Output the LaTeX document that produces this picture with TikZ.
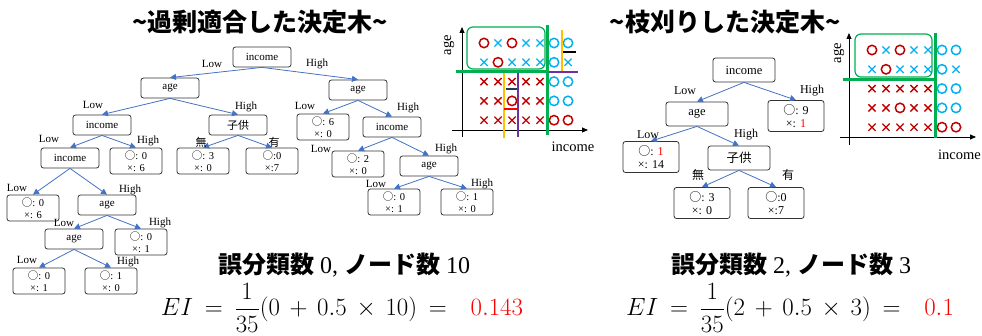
\documentclass[tikz,border=0pt]{standalone}
\usepackage{fontspec}
\setmainfont{Liberation Serif}
\newfontfamily\jp{Noto Sans CJK JP}
\usetikzlibrary{arrows.meta}
\definecolor{edgeblue}{HTML}{4472C4}
\definecolor{ored}{HTML}{C00000}
\definecolor{xblue}{HTML}{00B0F0}
\definecolor{cutgreen}{HTML}{00B050}
\definecolor{cutorange}{HTML}{FFC000}
\definecolor{cutpurple}{HTML}{7030A0}
\definecolor{cutnavy}{HTML}{1F3864}
\newcommand\maru{{\jp ○}}
\newcommand\widemath{\thickmuskip=8.5mu\relax\medmuskip=7mu\relax}
\tikzset{xmark/.pic={\draw (-3.6,-3.6) -- (3.6,3.6) (-3.6,3.6) -- (3.6,-3.6);}}
% the 7x5 sample grid, shared by both plots
\newcommand\scatterdots{%
    \foreach \i/\j in {1/1,3/1,2/2,3/4,6/5,7/5}
        \draw[ored,line width=1.5pt] ({14*(\i-1)},{19.3*(\j-1)}) circle (4.7pt);
    \foreach \i/\j in {6/1,7/1,6/2,6/3,7/3,6/4,7/4}
        \draw[xblue,line width=1.5pt] ({14*(\i-1)},{19.3*(\j-1)}) circle (4.7pt);
    \foreach \i/\j in {2/1,4/1,5/1,1/2,3/2,4/2,5/2,7/2}
        \pic[xblue,line width=1.3pt] at ({14*(\i-1)},{19.3*(\j-1)}) {xmark};
    \foreach \i/\j in {1/3,2/3,3/3,4/3,5/3,1/4,2/4,4/4,5/4,1/5,2/5,3/5,4/5,5/5}
        \pic[ored,line width=1.3pt] at ({14*(\i-1)},{19.3*(\j-1)}) {xmark};
}

\begin{document}
\begin{tikzpicture}[x=1pt,y=-1pt,
    box/.style={draw=black!80, line width=0.8pt, rounded corners=2.5pt, inner sep=1pt,
        minimum width=58, minimum height=20, font=\fontsize{11}{12}\selectfont},
    leaf/.style={box, minimum width=52, minimum height=26, align=center,
        font=\fontsize{10.5}{12}\selectfont},
    bigbox/.style={box, minimum width=62, minimum height=24, font=\fontsize{12.5}{14}\selectfont},
    bigleaf/.style={box, minimum width=56, minimum height=31, align=center,
        font=\fontsize{12}{13.5}\selectfont},
    lbl/.style={inner sep=0pt, font=\fontsize{11}{12}\selectfont},
    biglbl/.style={inner sep=0pt, font=\fontsize{12}{13}\selectfont},
    axlbl/.style={inner sep=0pt, font=\fontsize{14.5}{16}\selectfont},
    branch/.style={draw=edgeblue, line width=0.8pt, -{Triangle[length=6pt,width=6pt]}},
    axis/.style={line width=0.8pt, -{Triangle[length=6pt,width=5pt]}},
    title/.style={inner sep=0pt, font=\fontsize{25}{28}\selectfont\jp\bfseries},
    score/.style={inner sep=0pt, font=\fontsize{24}{28}\selectfont},
    formula/.style={inner sep=0pt, font=\fontsize{24}{28}\selectfont}]
\path[fill=white] (0,0) rectangle (982,336);
\useasboundingbox (0,0) rectangle (982,336);

% titles
\node[title] (ttlL) at (260,22) {\textasciitilde 過剰適合した決定木\textasciitilde};
\node[title] (ttlR) at (725,22) {\textasciitilde 枝刈りした決定木\textasciitilde};

% overfitted tree
\node[box] (root) at (262,57) {income};
\node[box] (ageL) at (170,88) {age};
\node[box] (ageR) at (358,90) {age};
\node[box] (incL) at (102,125) {income};
\node[box] (kidsL) at (238,125) {\jp 子供};
\node[leaf] (r60) at (323,127) {\maru: 6\\×: 0};
\node[box] (incR) at (392,127) {income};
\node[box] (incLL) at (70,158) {income};
\node[leaf] (l06) at (136,161) {\maru: 0\\×: 6};
\node[leaf] (k30) at (203,161) {\maru: 3\\×: 0};
\node[leaf] (k07) at (272,161) {\maru:0\\×:7};
\node[leaf] (r20) at (358,164) {\maru: 2\\×: 0};
\node[box] (ageRR) at (429,166) {age};
\node[leaf] (r01) at (394,202) {\maru: 0\\×: 1};
\node[leaf] (r10) at (467,202) {\maru: 1\\×: 0};
\node[leaf] (l06b) at (33,208) {\maru: 0\\×: 6};
\node[box] (ageLL) at (107,205) {age};
\node[box] (ageLLL) at (74,239) {age};
\node[leaf] (l01) at (141,242) {\maru: 0\\×: 1};
\node[leaf] (l01b) at (39,281) {\maru: 0\\×: 1};
\node[leaf] (l10) at (111,281) {\maru: 1\\×: 0};
\foreach \a/\b in {root/ageL,root/ageR,ageL/incL,ageL/kidsL,ageR/r60,ageR/incR,
    incL/incLL,incL/l06,kidsL/k30,kidsL/k07,incR/r20,incR/ageRR,ageRR/r01,ageRR/r10,
    incLL/l06b,incLL/ageLL,ageLL/ageLLL,ageLL/l01,ageLLL/l01b,ageLLL/l10}
    \draw[branch] (\a.south) -- (\b.north);
\foreach \x/\y/\t [count=\k] in {212/64/Low,317/64/High,93/105/Low,246/107/High,
    305/106/Low,408/108/High,49/139/Low,148/141/High,201/142/{\jp 無},274/142/{\jp 有},
    321/149/Low,446/149/High,376/184/Low,482/184/High,17/188/Low,130/190/High,
    64/223/Low,160/223/High,27/260/Low,128/262/High}
    \node[lbl] (lab\k) at (\x,\y) {\t};

% pruned tree
\node[bigbox] (proot) at (744,70) {income};
\node[bigbox] (page) at (697,114) {age};
\node[bigleaf] (p91) at (796,116) {\maru: 9\\×: \textcolor{red}{1}};
\node[bigleaf] (p114) at (651,157) {\maru: \textcolor{red}{1}\\×: 14};
\node[bigbox] (pkids) at (739,158) {\jp 子供};
\node[bigleaf] (p30) at (702,203) {\maru: 3\\×: 0};
\node[bigleaf] (p07) at (776,203) {\maru:0\\×:7};
\foreach \a/\b in {proot/page,proot/p91,page/p114,page/pkids,pkids/p30,pkids/p07}
    \draw[branch] (\a.south) -- (\b.north);
\foreach \x/\y/\t [count=\k] in {685/91/Low,812/91/High,648/135/Low,746/135/High,
    698/175/{\jp 無},788/175/{\jp 有}}
    \node[biglbl] (plab\k) at (\x,\y) {\t};

% left plot: all the cuts of the overfitted tree
\begin{scope}[shift={(484,43)}]
    \scatterdots
\end{scope}
\draw[axis] (452,130) -- (588,130);
\draw[axis] (462,137) -- (462,27);
\node[axlbl,rotate=90] (ageaxL) at (449,45) {age};
\node[axlbl] (incaxL) at (573,147) {income};
\draw[cutgreen,line width=1.2pt,rounded corners=6pt] (467,27) rectangle (545,69);
\draw[cutorange,line width=2.5pt] (562,30) -- (562,72);
\draw[black,line width=2.5pt] (563,52) -- (576,52);
\draw[cutorange,line width=2.5pt] (504,72) -- (504,138);
\draw[cutpurple,line width=2.5pt] (518,72) -- (518,137);
\draw[cutnavy,line width=2.5pt] (506,89) -- (517,89);
\draw[red,line width=2.5pt] (504,109) -- (517,109);
\draw[cutpurple,line width=2.5pt] (547,72) -- (578,72);
\draw[cutgreen,line width=3pt] (456,72) -- (547,72);
\draw[cutgreen,line width=3pt] (547,25) -- (547,135);

% right plot: the two cuts that are kept
\begin{scope}[shift={(872,50)}]
    \scatterdots
\end{scope}
\draw[axis] (840,137) -- (976,137);
\draw[axis] (849,145) -- (849,33);
\node[axlbl,rotate=90] (ageaxR) at (839,53) {age};
\node[axlbl,anchor=west] (incaxR) at (938,155) {income};
\draw[cutgreen,line width=1.2pt,rounded corners=6pt] (855,34) rectangle (932,77);
\draw[cutgreen,line width=3pt] (843,80) -- (935,80);
\draw[cutgreen,line width=3pt] (935,33) -- (935,138);

% scores
\node[score] (scoreL) at (344,265) {{\jp\bfseries 誤分類数} 0, {\jp\bfseries ノード数} 10};
\node[score] (scoreR) at (791,265) {{\jp\bfseries 誤分類数} 2, {\jp\bfseries ノード数} 3};
\node[formula] (eiL) at (342,308)
    {$\widemath\displaystyle EI=\frac{1}{35}(0+0.5\times 10)=\hspace{0.5em}\textcolor{red}{0.143}$};
\node[formula] (eiR) at (790,308)
    {$\widemath\displaystyle EI=\frac{1}{35}(2+0.5\times 3)=\hspace{0.5em}\textcolor{red}{0.1}$};
\end{tikzpicture}
\end{document}
